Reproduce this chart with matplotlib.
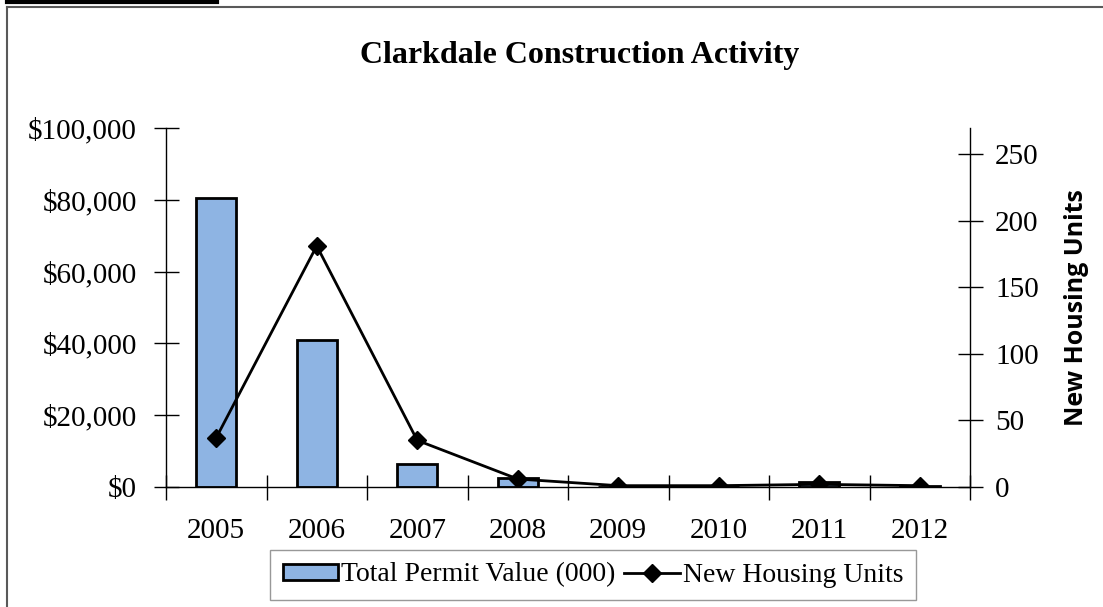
import numpy as np
import matplotlib.pyplot as plt
from matplotlib.lines import Line2D
from matplotlib.patches import Patch
from matplotlib.ticker import FuncFormatter, FixedLocator

# Data
years = ['2005', '2006', '2007', '2008', '2009', '2010', '2011', '2012']
permit_value = [80500, 41000, 6400, 2500, 0, 0, 1300, 250]
housing_units = [37, 181, 35, 6, 1, 1, 2, 1]

serif = 'Liberation Serif'
bar_color = '#8EB4E3'

fig = plt.figure(figsize=(11.03, 6.07), dpi=100)
W, H = 1103, 607

# Plot area in pixel coords of the reference
left, right, top, bottom = 166, 970, 128, 487
ax = fig.add_axes([left / W, 1 - bottom / H, (right - left) / W, (bottom - top) / H])
ax2 = ax.twinx()

x = np.arange(len(years))
ax.bar(x, permit_value, width=0.4, color=bar_color, edgecolor='black', linewidth=2, zorder=2)
ax2.plot(x, housing_units, color='black', linewidth=2, marker='D', markersize=9, zorder=3)

ax.set_xlim(-0.5, len(years) - 0.5)
ax.set_ylim(0, 100000)
ax2.set_ylim(0, 269.5)

# Axis look
for a in (ax, ax2):
    a.spines['top'].set_visible(False)
    a.set_facecolor('none')
ax.spines['right'].set_visible(False)
ax2.spines['left'].set_visible(False)
ax2.spines['bottom'].set_visible(False)
for s in ('left', 'bottom'):
    ax.spines[s].set_linewidth(1)
ax2.spines['right'].set_linewidth(1)

ax.set_yticks(np.arange(0, 100001, 20000))
ax.yaxis.set_major_formatter(FuncFormatter(lambda v, p: '${:,.0f}'.format(v)))
ax.tick_params(axis='y', direction='inout', length=18, width=1, pad=12)
ax2.set_yticks(np.arange(0, 251, 50))
ax2.tick_params(axis='y', direction='inout', length=18, width=1, pad=9)

ax.set_xticks(x)
ax.set_xticklabels(years)
ax.xaxis.set_minor_locator(FixedLocator(np.arange(-0.5, len(years), 1.0)))
ax.tick_params(axis='x', which='major', length=0, pad=22)
ax.tick_params(axis='x', which='minor', direction='inout', length=18, width=1)

for lab in ax.get_xticklabels() + ax.get_yticklabels() + ax2.get_yticklabels():
    lab.set_fontfamily(serif)
    lab.set_fontsize(21)

ax2.set_ylabel('New Housing Units', fontfamily='Open Sans', fontweight='bold',
               fontsize=18, labelpad=18)

fig.text(580 / W, 1 - 55 / H, 'Clarkdale Construction Activity', ha='center', va='center',
         fontfamily=serif, fontweight='bold', fontsize=23)

# Legend
handles = [Patch(facecolor=bar_color, edgecolor='black', linewidth=2),
           Line2D([], [], color='black', linewidth=2, marker='D', markersize=9)]
leg = fig.legend(handles, ['Total Permit Value (000)', 'New Housing Units'],
                 loc='center', bbox_to_anchor=(593 / W, 1 - 575 / H), ncol=2,
                 prop={'family': serif, 'size': 20}, frameon=True, fancybox=False,
                 edgecolor='#7f7f7f', handlelength=2.0, handleheight=0.5,
                 handletextpad=0.12, columnspacing=0.3, borderpad=0.45)
leg.get_frame().set_linewidth(1)

# Chart border and the black bar above it
fig.add_artist(Line2D([7 / W, 7 / W], [0, 1 - 7 / H], color='#595959', linewidth=1.5))
fig.add_artist(Line2D([7 / W, 1], [1 - 7 / H, 1 - 7 / H], color='#595959', linewidth=1.5))
fig.add_artist(Line2D([7 / W, 217 / W], [1 - 1.5 / H, 1 - 1.5 / H], color='black', linewidth=3))

fig.savefig('out.png', dpi=100)
